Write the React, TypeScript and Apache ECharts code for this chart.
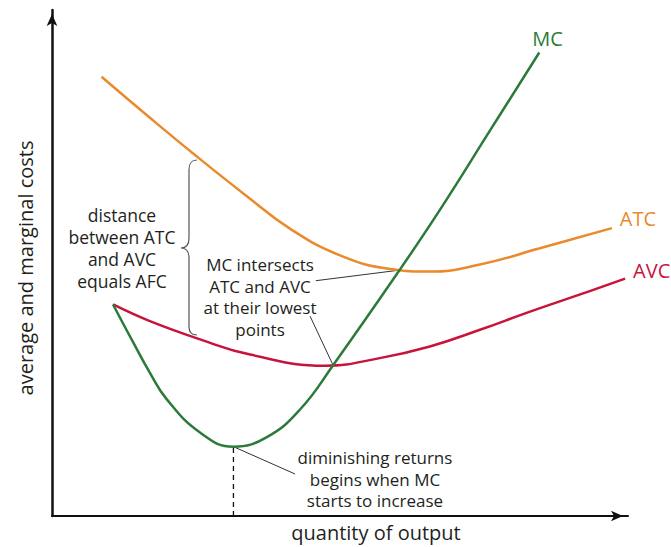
import React, { useEffect, useRef } from "react";
import * as echarts from "echarts";

// quantity of output (0-100) and cost (0-100)
const mcQ = [10.6, 14.1, 17.0, 19.9, 25.7, 31.5, 37.3, 43.1, 48.8, 60.4, 67.4, 76.0, 84.6];
const mcCost = [41.8, 34.3, 28.3, 23.1, 16.5, 13.7, 15.6, 21.1, 29.8, 48.7, 60.6, 76.1, 91.6];

const atcQ = [8.6, 17.0, 25.2, 33.5, 41.3, 50.0, 58.7, 65.6, 74.3, 84.7, 97.2];
const atcCost = [86.8, 78.7, 71.0, 63.5, 56.8, 51.5, 48.8, 48.3, 49.7, 52.9, 56.9];

const avcQ = [10.6, 17.0, 25.7, 34.4, 47.4, 56.9, 65.6, 74.3, 83.0, 91.7, 99.5];
const avcCost = [41.8, 38.5, 34.9, 31.9, 29.7, 31.2, 33.5, 36.8, 40.4, 43.8, 46.9];

// annotation leader lines: [from text, to point on curve]
const leaderAtc = [[45.8, 46.5], [60.4, 48.6]];
const leaderAvc = [[44.8, 39.5], [48.8, 29.8]];
const leaderMin = [[31.5, 13.7], [42.2, 8.3]];
const mcMinQ = 31.5;
const mcMinCost = 13.7;

const seriesNames = ["MC", "ATC", "AVC"];
const annotDistance = "distance\nbetween ATC\nand AVC\nequals AFC";
const annotIntersect = "MC intersects\nATC and AVC\nat their lowest\npoints";
const annotDiminish = "diminishing returns\nbegins when MC\nstarts to increase";
const xTitle = "quantity of output";
const yTitle = "average and marginal costs";

const FONT = "'Open Sans', 'Noto Sans', sans-serif";
const GREEN = "#2c7a3a";
const ORANGE = "#ea8a2c";
const RED = "#c8143a";
const TEXT = "#231f20";

const zip = (a: number[], b: number[]) => a.map((v, i) => [v, b[i]]);

export default function App() {
  const ref = useRef<HTMLDivElement>(null);
  useEffect(() => {
    document.body.style.margin = "0";
    if (!ref.current) return;
    echarts.graphic.registerShape(
      "brace",
      echarts.graphic.extendPath(
        "M197,160 C191,160 189,163 189,170 L189,238 C189,245 186,248 181,248 C186,248 189,251 189,258 L189,327 C189,332 191,335 197,335",
        {}
      )
    );
    const chart = echarts.init(ref.current, null, { renderer: "svg" });
    const leader = (data: number[][]) => ({
      type: "line",
      data,
      symbol: "none",
      silent: true,
      lineStyle: { color: "#333", width: 1 },
      z: 1,
    });
    const curve = (name: string, q: number[], c: number[], color: string, z: number, offset: number[]) => ({
      name,
      type: "line",
      data: zip(q, c),
      smooth: 0.45,
      symbol: "none",
      lineStyle: { color, width: 2.5 },
      z,
      endLabel: { show: true, formatter: "{a}", color, fontSize: 20, fontFamily: FONT, offset },
    });
    const textStyle = { fill: TEXT, fontSize: 17, fontFamily: FONT, lineHeight: 21.5, align: "center", verticalAlign: "middle" };
    chart.setOption({
      animation: false,
      grid: { left: 52, right: 43, top: 10, bottom: 30 },
      xAxis: {
        type: "value",
        min: 0,
        max: 100,
        name: xTitle,
        nameLocation: "middle",
        nameGap: 6,
        nameTextStyle: { fontSize: 20, fontFamily: FONT, color: TEXT, padding: [0, 0, 0, 72] },
        axisLine: { lineStyle: { color: "#111", width: 2 }, symbol: ["none", "arrow"], symbolSize: [8, 12], symbolOffset: [0, -5] },
        axisTick: { show: false },
        axisLabel: { show: false },
        splitLine: { show: false },
      },
      yAxis: {
        type: "value",
        min: 0,
        max: 100,
        name: yTitle,
        nameLocation: "middle",
        nameGap: 17,
        nameTextStyle: { fontSize: 20, fontFamily: FONT, color: TEXT, padding: [0, 10, 0, 0] },
        axisLine: { show: true, lineStyle: { color: "#111", width: 2.5 }, symbol: ["none", "arrow"], symbolSize: [8, 12], symbolOffset: [0, -4] },
        axisTick: { show: false },
        axisLabel: { show: false },
        splitLine: { show: false },
      },
      series: [
        curve(seriesNames[0], mcQ, mcCost, GREEN, 3, [-15, -14]),
        curve(seriesNames[1], atcQ, atcCost, ORANGE, 2, [0, -10]),
        curve(seriesNames[2], avcQ, avcCost, RED, 2, [0, -8]),
        {
          type: "line",
          data: [[mcMinQ, 0], [mcMinQ, mcMinCost]],
          symbol: "none",
          silent: true,
          lineStyle: { color: "#111", width: 1.3, type: [5, 4] },
          z: 1,
        },
        leader(leaderAtc),
        leader(leaderAvc),
        leader(leaderMin),
      ],
      graphic: [
        {
          type: "brace",
          x: 0,
          y: 0,
          style: { fill: "none", stroke: "#555", lineWidth: 1.2 },
        },
        { type: "text", x: 122, y: 248, style: { ...textStyle, text: annotDistance, fontSize: 17.5, lineHeight: 22 } },
        { type: "text", x: 260, y: 297, style: { ...textStyle, text: annotIntersect } },
        { type: "text", x: 375, y: 479, style: { ...textStyle, text: annotDiminish } },
      ],
    });
    return () => chart.dispose();
  }, []);
  return <div ref={ref} style={{ position: "fixed", left: 0, top: 0, width: 671, height: 547, background: "#fff" }} />;
}
